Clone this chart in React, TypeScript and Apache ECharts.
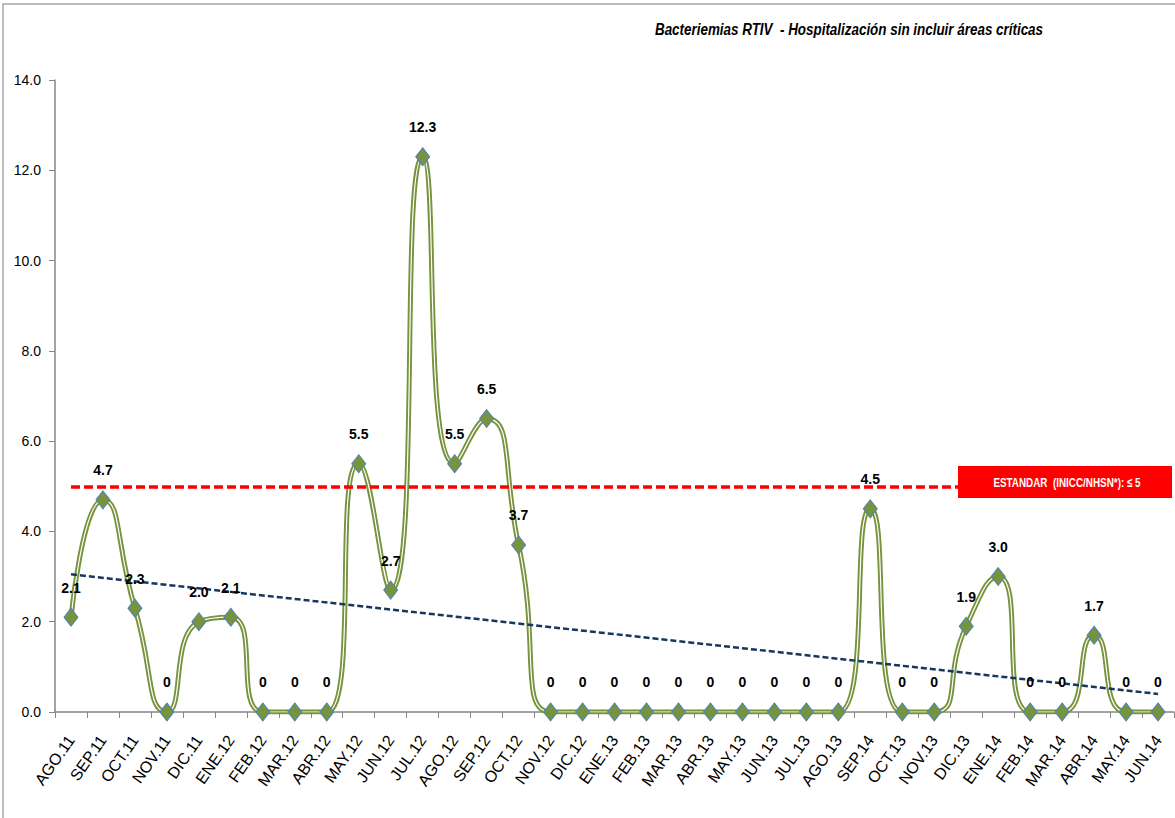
import React, { useEffect, useRef } from "react";
import * as echarts from "echarts";

const categories = [
  "AGO.11", "SEP.11", "OCT.11", "NOV.11", "DIC.11", "ENE.12", "FEB.12", "MAR.12", "ABR.12",
  "MAY.12", "JUN.12", "JUL.12", "AGO.12", "SEP.12", "OCT.12", "NOV.12", "DIC.12", "ENE.13",
  "FEB.13", "MAR.13", "ABR.13", "MAY.13", "JUN.13", "JUL.13", "AGO.13", "SEP.14", "OCT.13",
  "NOV.13", "DIC.13", "ENE.14", "FEB.14", "MAR.14", "ABR.14", "MAY.14", "JUN.14",
];

const values = [
  2.1, 4.7, 2.3, 0, 2.0, 2.1, 0, 0, 0,
  5.5, 2.7, 12.3, 5.5, 6.5, 3.7, 0, 0, 0,
  0, 0, 0, 0, 0, 0, 0, 4.5, 0,
  0, 1.9, 3.0, 0, 0, 1.7, 0, 0,
];

const standardValue = [5];
const trendValues = [3.05, 0.4];
const yTicks = [0, 2, 4, 6, 8, 10, 12, 14];

const titleText = "Bacteriemias RTIV  - Hospitalización sin incluir áreas críticas";
const standardText = "ESTANDAR  (INICC/NHSN*): ≤ 5";

const FONT = "'Liberation Sans', Arial, sans-serif";
const GREEN = "#77933C";

export default function App() {
  const ref = useRef<HTMLDivElement>(null);

  useEffect(() => {
    if (!ref.current) return;
    const chart = echarts.init(ref.current, undefined, { renderer: "svg" });
    const last = categories.length - 1;
    chart.setOption({
      animation: false,
      backgroundColor: "#ffffff",
      grid: { left: 55, right: 1, top: 80, bottom: 106, containLabel: false },
      xAxis: {
        type: "category",
        data: categories,
        boundaryGap: true,
        axisLine: { lineStyle: { color: "#868686", width: 1.5 } },
        axisTick: { show: true, alignWithLabel: false, length: 6, lineStyle: { color: "#868686" } },
        axisLabel: {
          interval: 0,
          rotate: 55,
          fontSize: 16,
          color: "#000",
          fontFamily: FONT,
          margin: 25,
          hideOverlap: false,
        },
        splitLine: { show: false },
      },
      yAxis: {
        type: "value",
        min: yTicks[0],
        max: yTicks[yTicks.length - 1],
        interval: 2,
        axisLine: { show: true, lineStyle: { color: "#868686", width: 1.5 } },
        axisTick: { show: true, length: 6, lineStyle: { color: "#868686" } },
        axisLabel: {
          fontSize: 14,
          color: "#000",
          fontFamily: FONT,
          formatter: (v: number) => v.toFixed(1),
          margin: 14,
        },
        splitLine: { show: false },
      },
      series: [
        {
          type: "line",
          data: values,
          smooth: 0.6,
          showSymbol: false,
          lineStyle: { color: GREEN, width: 5 },
          z: 2,
          silent: true,
        },
        {
          type: "line",
          data: values,
          smooth: 0.6,
          showSymbol: false,
          lineStyle: { color: "#ffffff", width: 1.2 },
          z: 3,
          silent: true,
        },
        {
          type: "line",
          data: values,
          smooth: 0.6,
          showSymbol: true,
          symbol: "diamond",
          symbolSize: [14, 18],
          itemStyle: { color: GREEN, borderColor: "#4F81BD", borderWidth: 1 },
          lineStyle: { width: 0, opacity: 0 },
          z: 5,
          label: {
            show: true,
            position: "top",
            distance: 13,
            fontFamily: FONT,
            fontWeight: "bold",
            fontSize: 14,
            color: "#000",
            formatter: (p: any) => (p.value === 0 ? "0" : Number(p.value).toFixed(1)),
          },
          markLine: {
            silent: true,
            symbol: ["none", "none"],
            label: { show: false },
            animation: false,
            data: [
              [
                { coord: [categories[0], standardValue[0]], lineStyle: { color: "#FF0000", width: 3.5, type: [9, 4] } },
                { coord: [categories[last], standardValue[0]] },
              ],
              [
                { coord: [categories[0], trendValues[0]], lineStyle: { color: "#17375E", width: 2.5, type: [6, 3] } },
                { coord: [categories[last], trendValues[1]] },
              ],
            ],
          },
        },
      ],
      graphic: [
        {
          type: "rect",
          shape: { x: 3, y: 4, width: 1200, height: 840 },
          style: { fill: "none", stroke: "#A6A6A6", lineWidth: 1.5 },
          silent: true,
          z: 1,
        },
        {
          type: "text",
          x: 849,
          y: 29,
          scaleX: 0.79,
          style: {
            text: titleText,
            fontFamily: FONT,
            fontWeight: "bold",
            fontStyle: "italic",
            fontSize: 17,
            fill: "#000",
            align: "center",
            verticalAlign: "middle",
          },
          z: 10,
        },
        {
          type: "rect",
          shape: { x: 958, y: 466, width: 214, height: 32 },
          style: { fill: "#FF0000" },
          z: 10,
        },
        {
          type: "text",
          x: 1067,
          y: 482,
          scaleX: 0.76,
          style: {
            text: standardText,
            fontFamily: FONT,
            fontWeight: "bold",
            fontSize: 13,
            fill: "#ffffff",
            align: "center",
            verticalAlign: "middle",
          },
          z: 11,
        },
      ],
    });
    return () => chart.dispose();
  }, []);

  return (
    <div
      ref={ref}
      style={{ position: "absolute", left: 0, top: 0, width: 1175, height: 818, background: "#fff" }}
    />
  );
}
